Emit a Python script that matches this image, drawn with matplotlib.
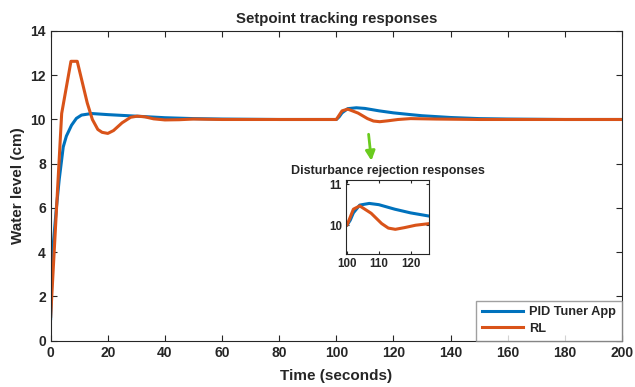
import numpy as np
import matplotlib
matplotlib.use("Agg")
import matplotlib.pyplot as plt

plt.rcParams['font.family'] = ['Liberation Sans', 'DejaVu Sans']
plt.rcParams['font.weight'] = 'bold'
plt.rcParams['text.color'] = '#262626'
plt.rcParams['axes.labelcolor'] = '#262626'
plt.rcParams['axes.edgecolor'] = '#262626'
plt.rcParams['xtick.color'] = '#262626'
plt.rcParams['ytick.color'] = '#262626'

# PID Tuner App response
t_pid = [0, 0.5, 1, 2, 3, 4.4, 5.5, 7.3, 9, 10.8, 14.3, 20, 30, 40, 50, 60, 80, 100,
         101, 102, 104, 107, 110, 115, 120, 126, 130, 140, 150, 160, 180, 200]
y_pid = [1, 3.2, 4.5, 6.0, 7.3, 8.76, 9.25, 9.74, 10.05, 10.2, 10.27, 10.22, 10.15, 10.08, 10.04, 10.02, 10.0, 10.0,
         10.12, 10.3, 10.49, 10.53, 10.5, 10.39, 10.3, 10.22, 10.17, 10.09, 10.04, 10.02, 10.0, 10.0]

# RL agent response
t_rl = [0, 3.85, 7.1, 9.3, 12.8, 14.6, 16.5, 18, 20, 22, 25, 28, 30.3, 33, 36, 40, 45, 50, 60, 100,
        102, 104, 107.6, 110.9, 113, 115.2, 118, 121.6, 126, 135, 150, 200]
y_rl = [1.1, 10.27, 12.63, 12.63, 10.75, 10.0, 9.55, 9.42, 9.37, 9.5, 9.85, 10.1, 10.15, 10.12, 10.03, 9.98, 9.99, 10.02, 10.0, 10.0,
        10.39, 10.47, 10.29, 10.04, 9.93, 9.9, 9.94, 10.0, 10.04, 10.02, 10.0, 10.0]

blue = '#0072BD'
orange = '#D95319'

fig = plt.figure(figsize=(6.35, 3.87), dpi=100)
ax = fig.add_axes([0.0798, 0.1196, 0.8997, 0.8003])
ax.plot(t_pid, y_pid, color=blue, lw=2.2, label='PID Tuner App')
ax.plot(t_rl, y_rl, color=orange, lw=2.2, label='RL')
ax.set_xlim(0, 200)
ax.set_ylim(0, 14)
ax.set_xticks(np.arange(0, 201, 20))
ax.set_yticks(np.arange(0, 15, 2))
ax.tick_params(direction='in', top=True, right=True, length=4, labelsize=10)
ax.set_xlabel('Time (seconds)', fontsize=11, fontweight='bold', labelpad=7)
ax.set_ylabel('Water level (cm)', fontsize=11, fontweight='bold', labelpad=4)
ax.set_title('Setpoint tracking responses', fontsize=10.8, fontweight='bold', pad=6)
leg = ax.legend(loc='lower right', fontsize=9.2, frameon=True, fancybox=False,
                borderaxespad=0, handlelength=3.2, handletextpad=0.5,
                borderpad=0.45, labelspacing=0.35)
leg.get_frame().set_edgecolor('#888888')
leg.get_frame().set_linewidth(1)

ax.annotate('', xy=(371.7 / 635, 1 - 163.5 / 387), xytext=(368.3 / 635, 1 - 131.5 / 387),
            xycoords='figure fraction', textcoords='figure fraction',
            arrowprops=dict(arrowstyle='-|>', color='#6ACB1E', lw=2, mutation_scale=14))

ins = fig.add_axes([0.545, 0.3437, 0.1306, 0.1912])
ins.plot(t_pid, y_pid, color=blue, lw=2.2)
ins.plot(t_rl, y_rl, color=orange, lw=2.2)
ins.set_xlim(99.7, 125.8)
ins.set_ylim(9.3, 11.1)
ins.set_xticks([100, 110, 120])
ins.set_yticks([10, 11])
ins.tick_params(direction='in', top=True, right=True, length=2.5, labelsize=8.3, pad=3)
ins.set_title('Disturbance rejection responses', fontsize=9, fontweight='bold', pad=4)

fig.savefig('out.png', dpi=100)
